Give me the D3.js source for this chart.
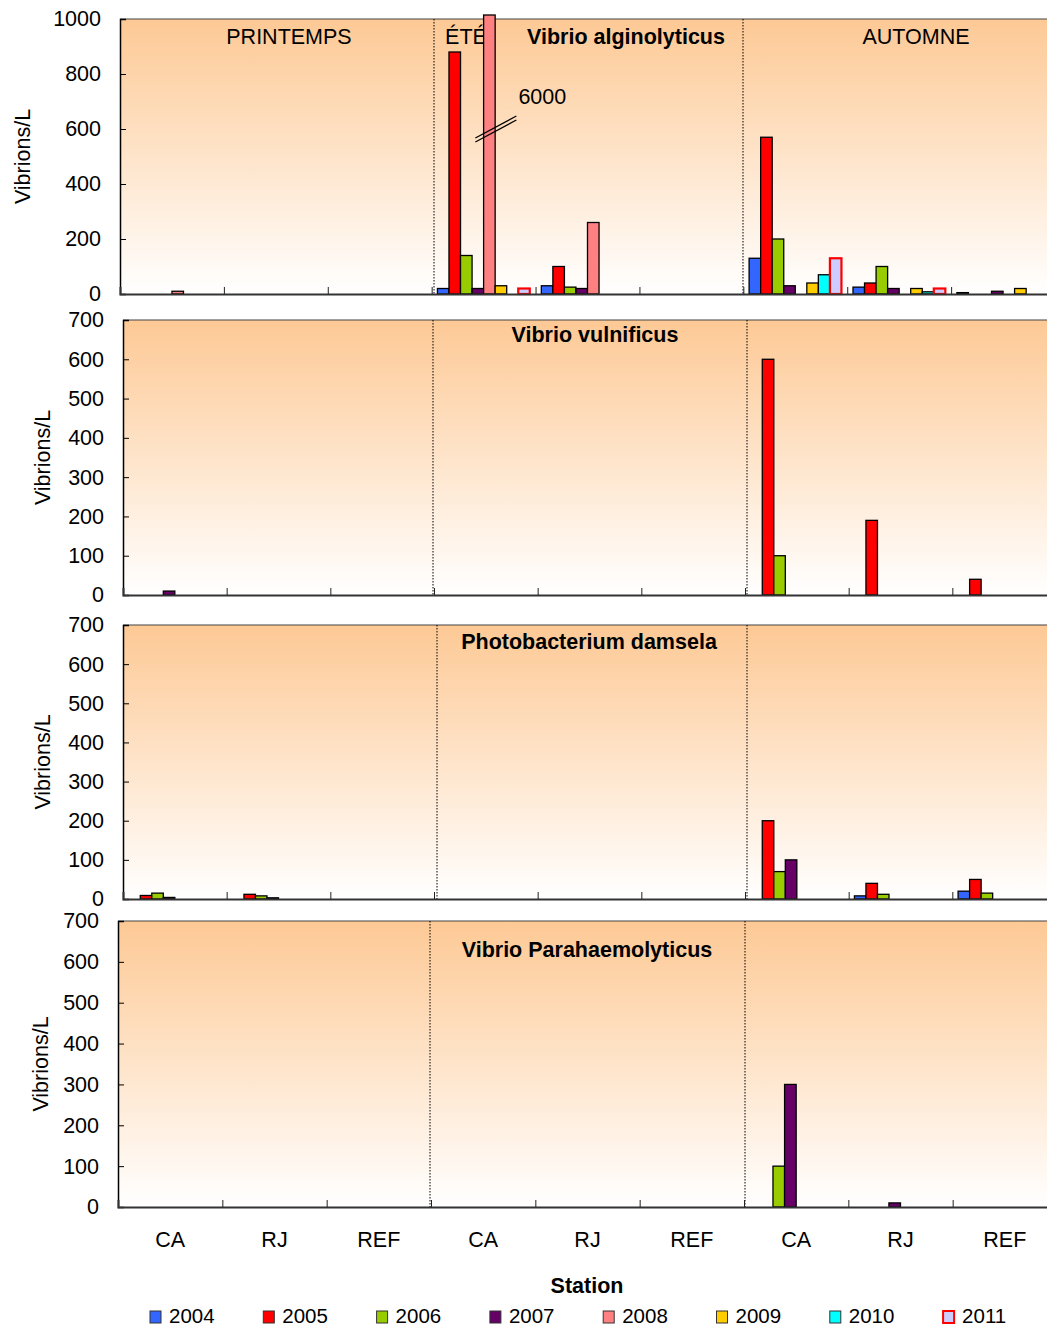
<!DOCTYPE html>
<html>
<head>
<meta charset="utf-8">
<script src="https://cdn.jsdelivr.net/npm/d3@7"></script>
<style>
  html, body { margin: 0; padding: 0; background: #fff; }
  svg text { font-family: "Liberation Sans", Arial, sans-serif; fill: #000; }
</style>
</head>
<body>
<svg id="chart" width="1047" height="1329"></svg>
<script>
// ---- data -------------------------------------------------------------
const years = ["2004", "2005", "2006", "2007", "2008", "2009", "2010", "2011"];
const yearFill = ["#3366FF", "#FF0000", "#99CC00", "#660066", "#FF8080", "#FFCC00", "#00FFFF", "#CCCCFF"];
const yearStroke = ["#000", "#000", "#000", "#000", "#000", "#000", "#000", "#FF0000"];
const stations = ["CA", "RJ", "REF"];
const seasons = ["PRINTEMPS", "ÉTÉ", "AUTOMNE"];
const species = ["Vibrio alginolyticus", "Vibrio vulnificus", "Photobacterium damsela", "Vibrio Parahaemolyticus"];
const ticksTop = [0, 200, 400, 600, 800, 1000];
const ticksOther = [0, 100, 200, 300, 400, 500, 600, 700];

// one row per year, columns: PRINTEMPS CA/RJ/REF, ÉTÉ CA/RJ/REF, AUTOMNE CA/RJ/REF
const alginolyticus = [
  [null, null, null, 20, 30, null, 130, 25, 5],
  [null, null, null, 880, 100, null, 570, 40, null],
  [null, null, null, 140, 25, null, 200, 100, null],
  [null, null, null, 20, 20, null, 30, 20, 10],
  [10, null, null, 6000, 260, null, null, null, null],
  [null, null, null, 30, null, null, 40, 20, 20],
  [null, null, null, null, null, null, 70, 8, null],
  [null, null, null, 20, null, null, 130, 20, null]
];
const vulnificus = [
  [null, null, null, null, null, null, null, null, null],
  [null, null, null, null, null, null, 600, 190, 40],
  [null, null, null, null, null, null, 100, null, null],
  [10, null, null, null, null, null, null, null, null],
  [null, null, null, null, null, null, null, null, null],
  [null, null, null, null, null, null, null, null, null],
  [null, null, null, null, null, null, null, null, null],
  [null, null, null, null, null, null, null, null, null]
];
const damsela = [
  [null, null, null, null, null, null, null, 8, 20],
  [9, 12, null, null, null, null, 200, 40, 50],
  [15, 8, null, null, null, null, 70, 12, 15],
  [4, 3, null, null, null, null, 100, null, null],
  [null, null, null, null, null, null, null, null, null],
  [null, null, null, null, null, null, null, null, null],
  [null, null, null, null, null, null, null, null, null],
  [null, null, null, null, null, null, null, null, null]
];
const parahaemolyticus = [
  [null, null, null, null, null, null, null, null, null],
  [null, null, null, null, null, null, null, null, null],
  [null, null, null, null, null, null, 100, null, null],
  [null, null, null, null, null, null, 300, 10, null],
  [null, null, null, null, null, null, null, null, null],
  [null, null, null, null, null, null, null, null, null],
  [null, null, null, null, null, null, null, null, null],
  [null, null, null, null, null, null, null, null, null]
];
const speciesValues = [alginolyticus, vulnificus, damsela, parahaemolyticus];

// ---- layout -----------------------------------------------------------
const FONT = 21.5;
const panels = [
  { left: 120, right: 1055, top: 19, bottom: 294, ticks: ticksTop, pad: 19, yLabelX: 22, titleX: 626, titleY: 36, dividers: [434, 743] },
  { left: 123, right: 1056, top: 320, bottom: 595, ticks: ticksOther, pad: 19, yLabelX: 42, titleX: 595, titleY: 334, dividers: [433, 747] },
  { left: 123, right: 1056, top: 625, bottom: 899, ticks: ticksOther, pad: 19, yLabelX: 42, titleX: 589, titleY: 641, dividers: [437, 747] },
  { left: 118, right: 1057, top: 921, bottom: 1207, ticks: ticksOther, pad: 19, yLabelX: 40, titleX: 587, titleY: 949, dividers: [430, 745] }
];
const seasonLabelX = [289, 466, 916];

const svg = d3.select("#chart");
const groupKeys = seasons.flatMap((s, i) => stations.map(st => i + "-" + st));

const defs = svg.append("defs");
const grad = defs.append("linearGradient").attr("id", "peach")
  .attr("x1", 0).attr("y1", 0).attr("x2", 0).attr("y2", 1);
grad.append("stop").attr("offset", "0%").attr("stop-color", "#FDC995");
grad.append("stop").attr("offset", "100%").attr("stop-color", "#FFFFFF");

panels.forEach((p, pi) => {
  const values = speciesValues[pi];
  const yMax = p.ticks[p.ticks.length - 1];
  const x = d3.scaleBand().domain(groupKeys).range([p.left, p.right]).padding(0);
  const xIdx = d3.scaleLinear().domain([0, groupKeys.length]).range([p.left, p.right]);
  const xYear = d3.scaleBand().domain(years).range([0, x.bandwidth()]).paddingInner(0).paddingOuter(0.5);
  const y = d3.scaleLinear().domain([0, yMax]).range([p.bottom, p.top]).clamp(true);

  const g = svg.append("g");

  // plot area with peach-to-white gradient
  g.append("rect")
    .attr("x", p.left).attr("y", p.top)
    .attr("width", p.right - p.left).attr("height", p.bottom - p.top)
    .attr("fill", "url(#peach)");
  g.append("line")
    .attr("x1", p.left).attr("x2", p.right).attr("y1", p.top).attr("y2", p.top)
    .attr("stroke", "#444").attr("stroke-width", 1.2);

  // season separators
  p.dividers.forEach(dx => {
    g.append("line")
      .attr("x1", dx).attr("x2", dx).attr("y1", p.top).attr("y2", p.bottom)
      .attr("stroke", "#000").attr("stroke-width", 1).attr("stroke-dasharray", "1.5,1.5");
  });

  // season names (top panel only) and species title
  if (pi === 0) {
    seasons.forEach((s, i) => {
      g.append("text").attr("x", seasonLabelX[i]).attr("y", p.titleY)
        .attr("dy", "0.35em").attr("text-anchor", "middle")
        .style("font-size", FONT + "px").text(s);
    });
  }
  g.append("text").attr("x", p.titleX).attr("y", p.titleY)
    .attr("dy", "0.35em").attr("text-anchor", "middle")
    .style("font-size", FONT + "px").style("font-weight", "bold")
    .text(species[pi]);

  // bars
  const barData = [];
  values.forEach((row, yi) => row.forEach((v, gi) => {
    if (v != null) barData.push({ year: years[yi], yi, key: groupKeys[gi], v });
  }));
  g.selectAll("rect.bar").data(barData).join("rect")
    .attr("class", "bar")
    .attr("x", d => x(d.key) + xYear(d.year))
    .attr("width", xYear.bandwidth())
    .attr("y", d => d.v > yMax ? p.top - 4 : y(d.v))
    .attr("height", d => p.bottom - (d.v > yMax ? p.top - 4 : y(d.v)))
    .attr("fill", d => yearFill[d.yi])
    .attr("stroke", d => yearStroke[d.yi])
    .attr("stroke-width", d => d.yi === 7 ? 2.2 : 1.3);

  // broken-axis marker and value for bars above the scale
  barData.filter(d => d.v > yMax).forEach(d => {
    const cx = x(d.key) + xYear(d.year) + xYear.bandwidth() / 2;
    const cy = y(yMax * 0.6);
    [-2, 2].forEach(off => {
      g.append("line")
        .attr("x1", cx - 14).attr("y1", cy + 11 + off)
        .attr("x2", cx + 27).attr("y2", cy - 11 + off)
        .attr("stroke", "#000").attr("stroke-width", 1.3);
    });
    g.append("text").attr("x", cx + 29).attr("y", cy - 33)
      .attr("dy", "0.35em").style("font-size", FONT + "px")
      .text(d3.format("d")(d.v));
  });

  // y axis
  const yAxis = g.append("g").attr("transform", `translate(${p.left},0)`)
    .call(d3.axisLeft(y).tickValues(p.ticks).tickSize(-6).tickPadding(p.pad).tickFormat(d3.format("d")));
  yAxis.select(".domain").attr("stroke", "#000").attr("stroke-width", 1.5);
  yAxis.selectAll(".tick line").attr("stroke", "#000");
  yAxis.selectAll(".tick text").style("font-size", FONT + "px")
    .style("font-family", "'Liberation Sans', Arial, sans-serif").attr("fill", "#000");

  // x axis: group separators
  const xAxis = g.append("g").attr("transform", `translate(0,${p.bottom})`)
    .call(d3.axisBottom(xIdx).tickValues(d3.range(1, groupKeys.length)).tickSize(-7).tickFormat(""));
  xAxis.select(".domain").attr("stroke", "#333").attr("stroke-width", 2);
  xAxis.selectAll(".tick line").attr("stroke", "#222");

  // station names under the last panel
  if (pi === panels.length - 1) {
    const lab = g.append("g").attr("transform", `translate(0,${p.bottom})`)
      .call(d3.axisBottom(x).tickSize(0).tickPadding(25).tickFormat(k => k.split("-")[1]));
    lab.select(".domain").remove();
    lab.selectAll(".tick text").style("font-size", FONT + "px")
      .style("font-family", "'Liberation Sans', Arial, sans-serif").attr("fill", "#000");
  }

  // y title
  g.append("text")
    .attr("transform", `translate(${p.yLabelX},${(p.top + p.bottom) / 2}) rotate(-90)`)
    .attr("dy", "0.35em").attr("text-anchor", "middle")
    .style("font-size", FONT + "px").text("Vibrions/L");
});

// x title
svg.append("text").attr("x", 587).attr("y", 1285).attr("dy", "0.35em")
  .attr("text-anchor", "middle").style("font-size", FONT + "px").style("font-weight", "bold")
  .text("Station");

// legend
const legend = svg.append("g").selectAll("g").data(years).join("g")
  .attr("transform", (d, i) => `translate(${150 + i * 113.3},1316)`);
legend.append("rect").attr("x", 0).attr("y", -5).attr("width", 11).attr("height", 12)
  .attr("fill", (d, i) => yearFill[i])
  .attr("stroke", (d, i) => i === 7 ? "#FF0000" : "#333")
  .attr("stroke-width", (d, i) => i === 7 ? 2 : 1);
legend.append("text").attr("x", 19).attr("y", 0).attr("dy", "0.35em")
  .style("font-size", "20.5px").text(d => d);
</script>
</body>
</html>
